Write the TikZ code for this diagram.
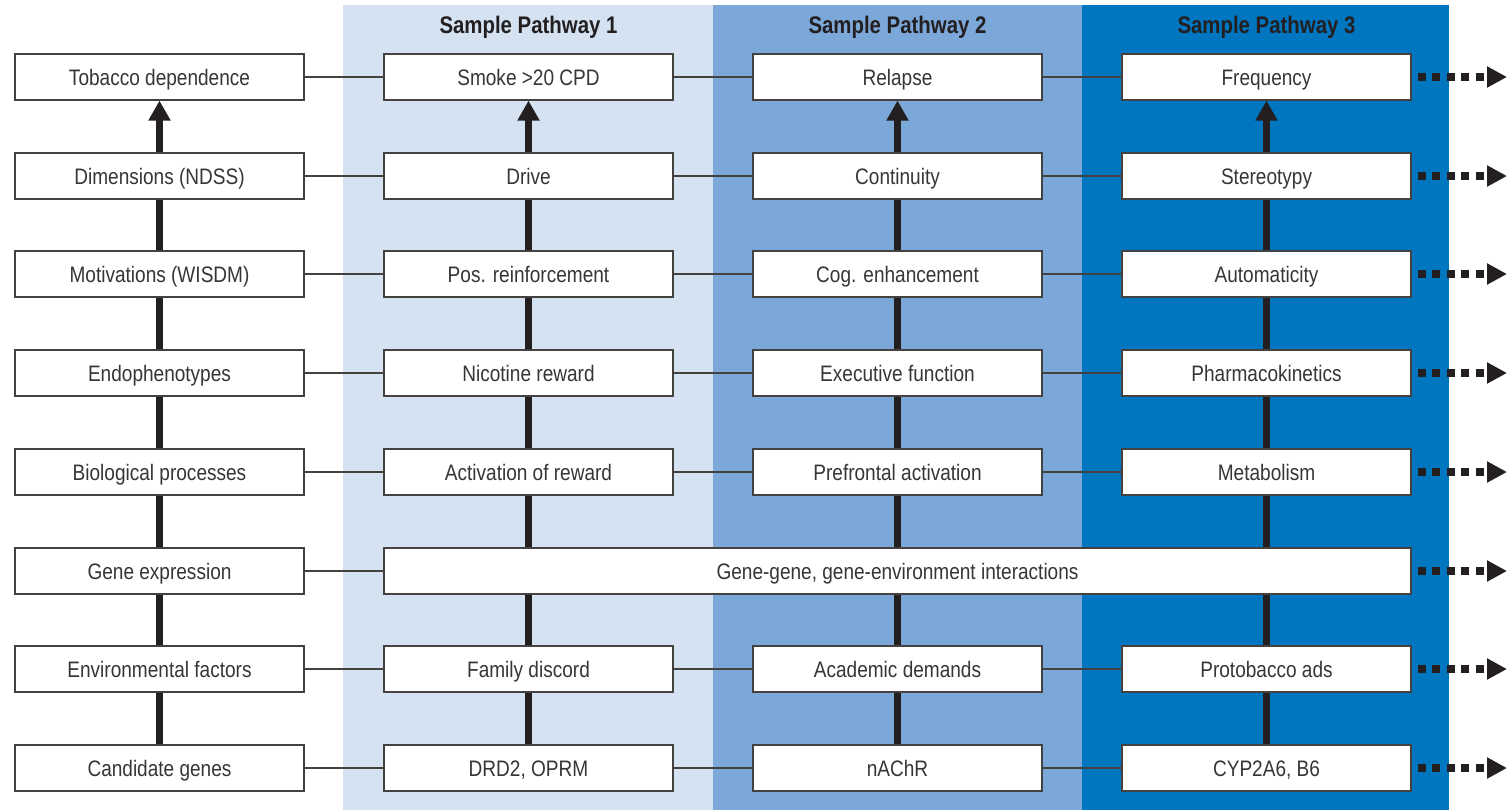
\documentclass[tikz,border=0pt]{standalone}
\usepackage{fontspec}
\setmainfont[FakeStretch=0.85]{Liberation Sans}
\usetikzlibrary{arrows.meta}
\definecolor{pwlight}{RGB}{212,226,241}
\definecolor{pwmid}{RGB}{123,168,216}
\definecolor{pwdark}{RGB}{0,117,192}
\definecolor{ink}{RGB}{35,31,32}

\begin{document}
\begin{tikzpicture}[x=0.5pt,y=-0.5pt,
    box/.style={draw=ink!85,line width=0.6pt,fill=white,text=ink!90,
      minimum width=144.5pt,minimum height=23pt,inner sep=0pt,
      text height=8.1pt,text depth=0pt,
      font=\fontsize{11.2}{13}\selectfont},
    title/.style={text=ink,font=\fontsize{12}{14}\selectfont\bfseries},
    hline/.style={draw=ink!85,line width=0.6pt},
    vline/.style={draw=ink,line width=3.5pt,-{Triangle[length=10pt,width=10.5pt]}},
    vlink/.style={draw=ink,line width=3.5pt},
    dotarrow/.style={draw=ink,line width=4pt,dash pattern=on 4pt off 3.3pt,
      -{Triangle[length=10pt,width=10pt]}}]
  \useasboundingbox (0,0) rectangle (1509,810);
  % pathway backgrounds
  \fill[pwlight] (343,5) rectangle (713,810);
  \fill[pwmid] (713,5) rectangle (1082,810);
  \fill[pwdark] (1082,5) rectangle (1449,810);
  \node[title] (t1) at (528.5,27) {Sample Pathway 1};
  \node[title] (t2) at (897.5,27) {Sample Pathway 2};
  \node[title] (t3) at (1266.5,27) {Sample Pathway 3};

  % general levels
  \node[box] (tob) at (159.5,77) {Tobacco dependence};
  \node[box] (dim) at (159.5,176) {Dimensions (NDSS)};
  \node[box] (mot) at (159.5,274) {Motivations (WISDM)};
  \node[box] (endo) at (159.5,373) {Endophenotypes};
  \node[box] (bio) at (159.5,472) {Biological processes};
  \node[box] (genex) at (159.5,571) {Gene expression};
  \node[box] (env) at (159.5,669) {Environmental factors};
  \node[box] (cand) at (159.5,768) {Candidate genes};

  % pathway 1
  \node[box] (smoke) at (528.5,77) {Smoke >20 CPD};
  \node[box] (drive) at (528.5,176) {Drive};
  \node[box] (posr) at (528.5,274) {Pos. reinforcement};
  \node[box] (nicr) at (528.5,373) {Nicotine reward};
  \node[box] (actr) at (528.5,472) {Activation of reward};
  \node[box] (fam) at (528.5,669) {Family discord};
  \node[box] (drd) at (528.5,768) {DRD2, OPRM};

  % pathway 2
  \node[box] (relapse) at (897.5,77) {Relapse};
  \node[box] (cont) at (897.5,176) {Continuity};
  \node[box] (cogen) at (897.5,274) {Cog. enhancement};
  \node[box] (exf) at (897.5,373) {Executive function};
  \node[box] (pfa) at (897.5,472) {Prefrontal activation};
  \node[box] (acad) at (897.5,669) {Academic demands};
  \node[box] (nachr) at (897.5,768) {nAChR};

  % pathway 3
  \node[box] (freq) at (1266.5,77) {Frequency};
  \node[box] (stereo) at (1266.5,176) {Stereotypy};
  \node[box] (auto) at (1266.5,274) {Automaticity};
  \node[box] (pk) at (1266.5,373) {Pharmacokinetics};
  \node[box] (metab) at (1266.5,472) {Metabolism};
  \node[box] (proto) at (1266.5,669) {Protobacco ads};
  \node[box] (cyp) at (1266.5,768) {CYP2A6, B6};

  \node[box,minimum width=513.5pt] (gg) at (897.5,571) {Gene-gene, gene-environment interactions};

  % horizontal links
  \draw[hline] (tob) -- (smoke) (smoke) -- (relapse) (relapse) -- (freq);
  \draw[hline] (dim) -- (drive) (drive) -- (cont) (cont) -- (stereo);
  \draw[hline] (mot) -- (posr) (posr) -- (cogen) (cogen) -- (auto);
  \draw[hline] (endo) -- (nicr) (nicr) -- (exf) (exf) -- (pk);
  \draw[hline] (bio) -- (actr) (actr) -- (pfa) (pfa) -- (metab);
  \draw[hline] (genex) -- (gg);
  \draw[hline] (env) -- (fam) (fam) -- (acad) (acad) -- (proto);
  \draw[hline] (cand) -- (drd) (drd) -- (nachr) (nachr) -- (cyp);

  % vertical chains
  \draw[vlink] (cand) -- (env) (env) -- (genex) (genex) -- (bio) (bio) -- (endo) (endo) -- (mot) (mot) -- (dim);
  \draw[vline] (dim) -- (tob);
  \draw[vlink] (drd) -- (fam) (fam.north) -- (fam.north |- gg.south) (actr.south |- gg.north) -- (actr.south)
    (actr) -- (nicr) (nicr) -- (posr) (posr) -- (drive);
  \draw[vline] (drive) -- (smoke);
  \draw[vlink] (nachr) -- (acad) (acad.north) -- (acad.north |- gg.south) (pfa.south |- gg.north) -- (pfa.south)
    (pfa) -- (exf) (exf) -- (cogen) (cogen) -- (cont);
  \draw[vline] (cont) -- (relapse);
  \draw[vlink] (cyp) -- (proto) (proto.north) -- (proto.north |- gg.south) (metab.south |- gg.north) -- (metab.south)
    (metab) -- (pk) (pk) -- (auto) (auto) -- (stereo);
  \draw[vline] (stereo) -- (freq);

  % continuation arrows
  \coordinate (e1) at (1507,77);
  \coordinate (e2) at (1507,176);
  \coordinate (e3) at (1507,274);
  \coordinate (e4) at (1507,373);
  \coordinate (e5) at (1507,472);
  \coordinate (e6) at (1507,571);
  \coordinate (e7) at (1507,669);
  \coordinate (e8) at (1507,768);
  \draw[dotarrow] ([xshift=3pt]freq.east) -- (e1);
  \draw[dotarrow] ([xshift=3pt]stereo.east) -- (e2);
  \draw[dotarrow] ([xshift=3pt]auto.east) -- (e3);
  \draw[dotarrow] ([xshift=3pt]pk.east) -- (e4);
  \draw[dotarrow] ([xshift=3pt]metab.east) -- (e5);
  \draw[dotarrow] ([xshift=3pt]gg.east) -- (e6);
  \draw[dotarrow] ([xshift=3pt]proto.east) -- (e7);
  \draw[dotarrow] ([xshift=3pt]cyp.east) -- (e8);
\end{tikzpicture}
\end{document}
